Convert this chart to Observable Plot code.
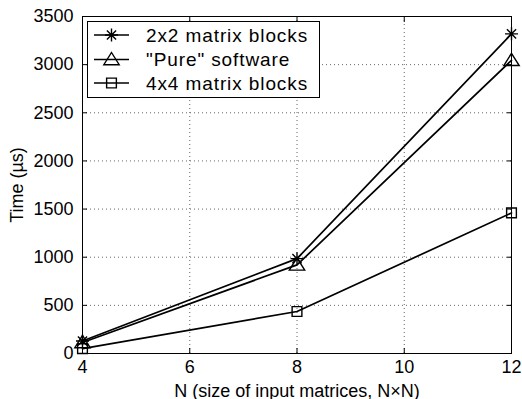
<!DOCTYPE html>
<html>
<head>
<meta charset="utf-8">
<script src="https://cdn.jsdelivr.net/npm/d3@7"></script>
<script src="https://cdn.jsdelivr.net/npm/@observablehq/plot@0.6"></script>
<style>
  html, body { margin: 0; padding: 0; background: #fff; }
  #chart { position: relative; width: 522px; height: 399px; }
</style>
</head>
<body>
<div id="chart"></div>
<script>
// ---- data ----
const N = [4, 8, 12];
const blocks2x2 = [130, 985, 3320];
const pureSoftware = [115, 920, 3045];
const blocks4x4 = [50, 436, 1460];
const seriesNames = ["2x2 matrix blocks", "\"Pure\" software", "4x4 matrix blocks"];
const xTicks = [4, 6, 8, 10, 12];
const yTicks = [0, 500, 1000, 1500, 2000, 2500, 3000, 3500];
const xLabel = "N (size of input matrices, N\u00d7N)";
const yLabel = "Time (\u00b5s)";

// ---- custom Matlab-like markers ----
const starSym = { draw(ctx, size) { const r = Math.sqrt(size / Math.PI);
  for (const a of [0, 45, 90, 135]) { const t = a * Math.PI / 180;
    ctx.moveTo(-r * Math.cos(t), -r * Math.sin(t)); ctx.lineTo(r * Math.cos(t), r * Math.sin(t)); } } };
const triSym = { draw(ctx, size) { const r = Math.sqrt(size / Math.PI);
  ctx.moveTo(0, -r); ctx.lineTo(r * 1.1, r * 0.75); ctx.lineTo(-r * 1.1, r * 0.75); ctx.closePath(); } };
const sqSym = { draw(ctx, size) { const r = Math.sqrt(size / Math.PI) * 0.75;
  ctx.moveTo(-r, -r); ctx.lineTo(r, -r); ctx.lineTo(r, r); ctx.lineTo(-r, r); ctx.closePath(); } };
const symbols = [starSym, triSym, sqSym];
const radii = [6.5, 7, 6.5];

const rows = [];
[blocks2x2, pureSoftware, blocks4x4].forEach((vals, s) =>
  vals.forEach((v, i) => rows.push({ series: seriesNames[s], s, n: N[i], t: v })));

const font = "'Liberation Sans', Arial, Helvetica, sans-serif";
const fmt = d3.format("d");

const marks = [
  Plot.gridX(xTicks.slice(1, -1), { stroke: "#666", strokeOpacity: 1, strokeDasharray: "1,3", strokeWidth: 1 }),
  Plot.gridY(yTicks.slice(1, -1), { stroke: "#666", strokeOpacity: 1, strokeDasharray: "1,3", strokeWidth: 1 }),
  Plot.axisX(xTicks, { anchor: "bottom", tickSize: -5, tickPadding: 12, fontSize: 18, tickFormat: fmt,
    label: xLabel, labelAnchor: "center", labelArrow: "none", labelOffset: 43 }),
  Plot.axisX(xTicks, { anchor: "top", tickSize: -5, tickFormat: () => "", label: null }),
  Plot.axisY(yTicks, { anchor: "left", tickSize: -5, tickPadding: 14, fontSize: 18, tickFormat: fmt,
    label: yLabel, labelAnchor: "center", labelArrow: "none", labelOffset: 72 }),
  Plot.axisY(yTicks, { anchor: "right", tickSize: -5, tickFormat: () => "", label: null }),
  Plot.frame({ stroke: "#000", strokeWidth: 1 })
];
seriesNames.forEach((name, s) => {
  const d = rows.filter(r => r.s === s);
  marks.push(Plot.line(d, { x: "n", y: "t", stroke: "#000", strokeWidth: 1.7 }));
  marks.push(Plot.dot(d, { x: "n", y: "t", r: radii[s], symbol: symbols[s], stroke: "#000", strokeWidth: 1.4, fill: "none" }));
});

const plot = Plot.plot({
  width: 522, height: 399,
  marginLeft: 82, marginRight: 11, marginTop: 16, marginBottom: 46,
  style: { fontFamily: font, fontSize: "19px", color: "#000", background: "#fff", overflow: "visible" },
  x: { domain: [4, 12] },
  y: { domain: [0, 3500] },
  marks
});
document.getElementById("chart").appendChild(plot);

// ---- legend inside the plot (upper left) ----
const svg = d3.select(plot);
const lg = svg.append("g").attr("font-family", font).attr("text-anchor", "start");
lg.append("rect").attr("x", 87.5).attr("y", 21.5).attr("width", 232).attr("height", 76)
  .attr("fill", "#fff").attr("stroke", "#000").attr("stroke-width", 1);
const rowY = [35, 59.5, 83];
seriesNames.forEach((name, s) => {
  const y = rowY[s];
  lg.append("line").attr("x1", 94).attr("x2", 129).attr("y1", y).attr("y2", y)
    .attr("stroke", "#000").attr("stroke-width", 1.7);
  const sz = Math.PI * radii[s] * radii[s];
  lg.append("path").attr("transform", `translate(111.5,${y})`)
    .attr("d", d3.symbol(symbols[s], sz)())
    .attr("fill", "none").attr("stroke", "#000").attr("stroke-width", 1.4);
  lg.append("text").attr("x", 146).attr("y", y).attr("dy", "0.36em").attr("text-anchor", "start")
    .attr("font-size", 19).attr("letter-spacing", "0.9px").attr("fill", "#000").text(name);
});
</script>
</body>
</html>
